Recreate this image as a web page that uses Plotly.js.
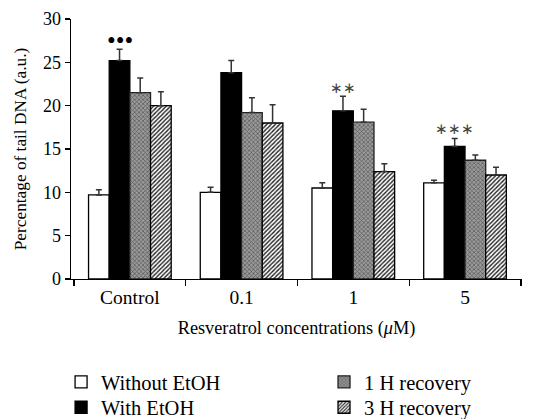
<!DOCTYPE html>
<html>
<head>
<meta charset="utf-8">
<script src="https://cdn.plot.ly/plotly-3.0.1.min.js"></script>
<style>html,body{margin:0;padding:0;background:#fff;}#chart{width:549px;height:419px;}</style>
</head>
<body>
<div id="chart"></div>
<script>
var categories = ["Control", "0.1", "1", "5"];
var withoutEtOH = [9.7, 10.0, 10.5, 11.1];
var withoutEtOHErr = [0.6, 0.6, 0.6, 0.3];
var withEtOH = [25.2, 23.8, 19.4, 15.3];
var withEtOHErr = [1.3, 1.4, 1.7, 0.9];
var recovery1H = [21.5, 19.2, 18.1, 13.7];
var recovery1HErr = [1.7, 1.7, 1.5, 0.6];
var recovery3H = [20.0, 18.0, 12.4, 12.0];
var recovery3HErr = [1.6, 2.1, 0.9, 0.9];
var seriesNames = ["Without EtOH", "With EtOH", "1 H recovery", "3 H recovery"];
var marks = [{cat: 0, text: "•••"}, {cat: 2, text: "∗∗"}, {cat: 3, text: "∗∗∗"}];

var font = "Liberation Serif, Times New Roman, serif";
function err(a){ return {type:"data", symmetric:false, array:a, arrayminus:a.map(function(){return 0;}), color:"#333", thickness:1.5, width:3}; }
var line = {color:"#000", width:1.3};
var traces = [
  {type:"bar", name:seriesNames[0], x:categories, y:withoutEtOH, error_y:err(withoutEtOHErr),
   marker:{color:"#fff", line:line}, legend:"legend"},
  {type:"bar", name:seriesNames[1], x:categories, y:withEtOH, error_y:err(withEtOHErr),
   marker:{color:"#000", line:line}, legend:"legend2"},
  {type:"bar", name:seriesNames[2], x:categories, y:recovery1H, error_y:err(recovery1HErr),
   marker:{color:"#8c8c8c", line:{color:"#222", width:1.3}, pattern:{shape:"x", fgcolor:"#555", bgcolor:"#9a9a9a", size:3, solidity:0.4}}, legend:"legend3"},
  {type:"bar", name:seriesNames[3], x:categories, y:recovery3H, error_y:err(recovery3HErr),
   marker:{color:"#fff", line:line, pattern:{shape:"/", fgcolor:"#222", bgcolor:"#fff", size:3, solidity:0.45}}, legend:"legend4"}
];

var w = 0.74/4;
var shifts = [9, 8, 10];
var annotations = marks.map(function(m, i){
  var yv = withEtOH[m.cat] + withEtOHErr[m.cat];
  return {x: m.cat - 0.5*w, y: yv, xref:"x", yref:"y", text:m.text, showarrow:false,
    yanchor:"middle", yshift: shifts[i],
    font:{family:font, size: i===0 ? 25 : 14.5, color: i===0 ? "#000" : "#444"}};
});

function leg(x, y){ return {x:x, y:y, xanchor:"left", yanchor:"middle", bgcolor:"rgba(0,0,0,0)",
  font:{family:font, size:20.5, color:"#000"}, itemwidth:30}; }

var layout = {
  width:549, height:419,
  margin:{l:71, r:27, t:19, b:140, autoexpand:false},
  paper_bgcolor:"#fff", plot_bgcolor:"#fff",
  font:{family:font, size:18, color:"#000"},
  barmode:"group", bargap:0.26, bargroupgap:0,
  xaxis:{type:"category", range:[-0.527, 3.51], showline:true, linecolor:"#000", linewidth:1.3,
    ticks:"outside", tickson:"boundaries", ticklen:6, tickcolor:"#000", tickwidth:1.3,
    tickfont:{family:font, size:19.5}, showgrid:false, zeroline:false,
    title:{text:"Resveratrol concentrations (<i>μ</i>M)", font:{family:font, size:18.3}, standoff:14}},
  yaxis:{range:[0,30], dtick:5, showline:true, linecolor:"#000", linewidth:1.3,
    ticks:"outside", ticklen:5, tickcolor:"#000", tickwidth:1.3,
    tickfont:{family:font, size:18}, showgrid:false, zeroline:false,
    title:{text:"Percentage of tail DNA (a.u.)", font:{family:font, size:17.3}, standoff:12}},
  annotations: annotations,
  legend: leg(-0.022, -0.396),
  legend2: leg(-0.022, -0.494),
  legend3: leg(0.561, -0.396),
  legend4: leg(0.561, -0.494),
  showlegend:true
};
Plotly.newPlot("chart", traces, layout, {displayModeBar:false, staticPlot:true});
</script>
</body>
</html>
